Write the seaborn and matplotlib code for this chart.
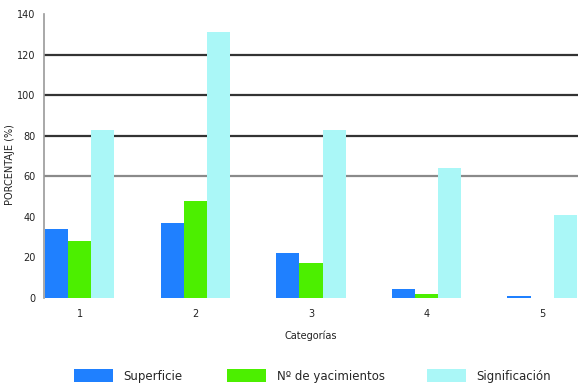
import matplotlib
matplotlib.use("Agg")
import matplotlib.pyplot as plt
import seaborn as sns
import pandas as pd

categorias = ["1", "2", "3", "4", "5"]
superficie = [34, 37, 22, 4.5, 1]
yacimientos = [28, 48, 17, 2, 0]
significacion = [83, 131, 83, 64, 41]
series = ["Superficie", "Nº de yacimientos", "Significación"]
colores = ["#1f80ff", "#4cef00", "#aaf7f7"]
y_ticks = [0, 20, 40, 60, 80, 100, 120, 140]

df = pd.DataFrame({
    "categoria": categorias * 3,
    "serie": [series[0]] * 5 + [series[1]] * 5 + [series[2]] * 5,
    "valor": superficie + yacimientos + significacion,
})

sns.set_theme(style="white")
plt.rcParams["font.family"] = ["Liberation Sans Narrow", "DejaVu Sans"]

fig = plt.figure(figsize=(5.78, 3.88), dpi=100)
ax = fig.add_axes([0.076, 0.232, 0.924, 0.732])

# horizontal reference lines behind the bars
for yv, col in [(60, "#8a8a8a"), (80, "#333333"), (100, "#333333"), (120, "#333333")]:
    ax.axhline(yv, color=col, lw=1.6, zorder=0)

sns.barplot(data=df, x="categoria", y="valor", hue="serie", hue_order=series,
            palette=colores, width=0.6, gap=0, saturation=1, ax=ax,
            edgecolor="none", linewidth=0, zorder=2)

ax.set_xlim(-0.31, 4.31)
ax.set_ylim(0, 140)
ax.set_yticks(y_ticks)
ax.set_yticklabels([str(v) for v in y_ticks], fontsize=7, color="#222222")
ax.tick_params(axis="x", labelsize=7, colors="#222222", length=0, pad=8)
ax.tick_params(axis="y", length=0, pad=6)

for s in ["top", "right", "bottom"]:
    ax.spines[s].set_visible(False)
ax.spines["left"].set_color("#999999")
ax.spines["left"].set_linewidth(1.2)

ax.set_xlabel("Categorías", fontsize=7, color="#222222", labelpad=8)
ax.set_ylabel("PORCENTAJE (%)", fontsize=7, color="#222222")
ax.yaxis.set_label_coords(-0.055, 0.47)

# one legend box per series, spread along the bottom
handles, labels = ax.get_legend_handles_labels()
ax.legend_.remove()
for h, lab, x0 in zip(handles, labels, [74, 227, 427]):
    fig.legend([h], [lab], loc="center left", bbox_to_anchor=(x0 / 578, 0.031),
               bbox_transform=fig.transFigure, frameon=False, fontsize=8.5,
               handlelength=3.3, handleheight=1.25, handletextpad=0.9,
               borderpad=0, borderaxespad=0)

fig.savefig("out.png", dpi=100)
